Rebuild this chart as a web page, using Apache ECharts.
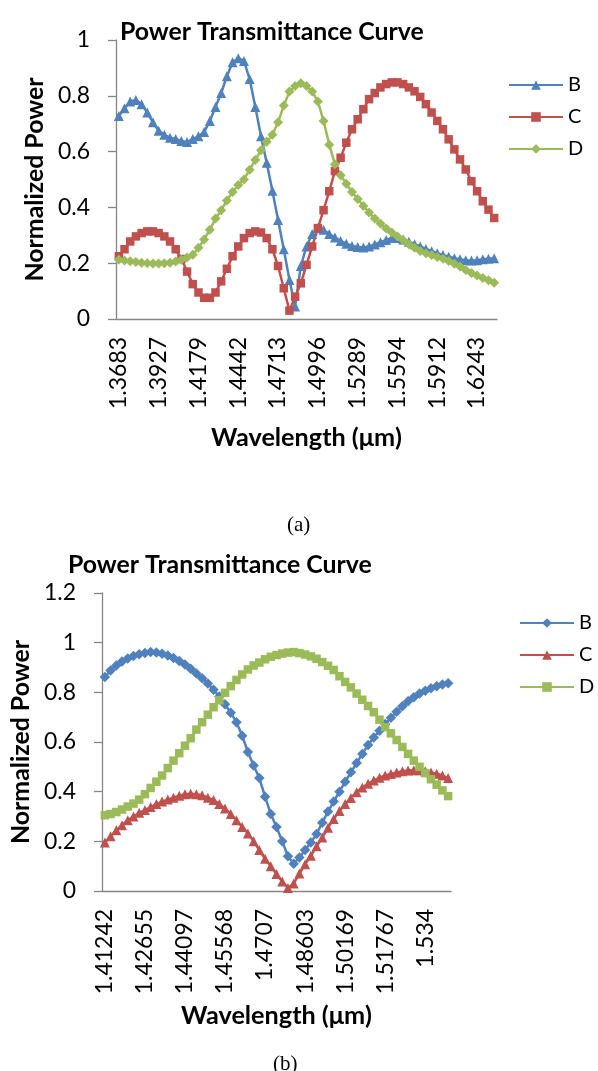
<!DOCTYPE html>
<html><head><meta charset="utf-8">
<script src="https://cdn.jsdelivr.net/npm/echarts@6/dist/echarts.min.js"></script>
<style>html,body{margin:0;padding:0;background:#fff}#c{width:598px;height:1071px}</style>
</head><body><div id="c"></div>
<script>
// ---- data (a) ----
const ticksA = ['1.3683','1.3927','1.4179','1.4442','1.4713','1.4996','1.5289','1.5594','1.5912','1.6243'];
const bA = [0.728,0.755,0.78,0.785,0.77,0.74,0.705,0.675,0.66,0.65,0.645,0.638,0.634,0.645,0.655,0.67,0.71,0.76,0.81,0.87,0.92,0.935,0.925,0.86,0.76,0.655,0.56,0.46,0.355,0.25,0.14,0.045,0.19,0.26,0.305,0.325,0.32,0.305,0.292,0.28,0.27,0.262,0.258,0.256,0.26,0.267,0.275,0.283,0.29,0.29,0.285,0.277,0.268,0.26,0.251,0.243,0.236,0.229,0.223,0.218,0.214,0.211,0.21,0.211,0.214,0.216,0.218];
const cA = [0.225,0.25,0.278,0.296,0.308,0.314,0.314,0.308,0.296,0.278,0.25,0.215,0.17,0.125,0.095,0.076,0.076,0.095,0.135,0.18,0.225,0.26,0.29,0.308,0.314,0.31,0.29,0.25,0.19,0.11,0.03,0.08,0.128,0.194,0.26,0.326,0.39,0.458,0.53,0.578,0.632,0.68,0.716,0.752,0.788,0.81,0.83,0.842,0.848,0.848,0.842,0.83,0.816,0.796,0.77,0.74,0.71,0.68,0.644,0.608,0.572,0.536,0.494,0.458,0.422,0.392,0.362];
const dA = [0.212,0.21,0.207,0.204,0.202,0.2,0.199,0.199,0.2,0.202,0.206,0.212,0.22,0.23,0.255,0.285,0.32,0.36,0.39,0.425,0.455,0.48,0.5,0.535,0.57,0.605,0.635,0.66,0.705,0.765,0.815,0.835,0.845,0.835,0.815,0.78,0.71,0.625,0.555,0.515,0.485,0.455,0.43,0.405,0.382,0.36,0.342,0.324,0.31,0.296,0.282,0.268,0.255,0.244,0.236,0.229,0.222,0.216,0.208,0.198,0.188,0.176,0.165,0.156,0.147,0.139,0.13];
// ---- data (b) ----
const ticksB = ['1.41242','1.42655','1.44097','1.45568','1.4707','1.48603','1.50169','1.51767','1.534'];
const bB = [0.862,0.888,0.908,0.924,0.936,0.946,0.953,0.958,0.962,0.96,0.955,0.948,0.938,0.926,0.912,0.895,0.876,0.857,0.836,0.81,0.783,0.752,0.718,0.68,0.625,0.56,0.505,0.455,0.38,0.31,0.258,0.2,0.14,0.11,0.135,0.165,0.195,0.23,0.275,0.32,0.36,0.4,0.44,0.478,0.515,0.552,0.588,0.618,0.645,0.672,0.698,0.722,0.744,0.764,0.78,0.795,0.806,0.816,0.825,0.832,0.837];
const cB = [0.195,0.22,0.245,0.265,0.285,0.3,0.315,0.326,0.338,0.35,0.36,0.368,0.376,0.384,0.39,0.392,0.39,0.386,0.376,0.366,0.35,0.332,0.31,0.285,0.258,0.232,0.2,0.165,0.13,0.1,0.068,0.038,0.012,0.03,0.07,0.108,0.142,0.18,0.215,0.255,0.29,0.322,0.35,0.375,0.398,0.417,0.432,0.445,0.456,0.465,0.471,0.477,0.482,0.485,0.486,0.486,0.482,0.477,0.472,0.465,0.455];
const dB = [0.305,0.31,0.318,0.328,0.34,0.352,0.368,0.39,0.415,0.44,0.465,0.495,0.525,0.555,0.585,0.615,0.65,0.68,0.71,0.74,0.768,0.798,0.825,0.85,0.872,0.892,0.908,0.92,0.933,0.943,0.95,0.956,0.96,0.962,0.958,0.952,0.945,0.935,0.922,0.907,0.89,0.865,0.842,0.82,0.795,0.77,0.745,0.72,0.69,0.66,0.635,0.608,0.58,0.552,0.525,0.5,0.475,0.45,0.428,0.405,0.382];
const STEP = 7; // one tick label every 7 samples

function cats(ticks, n){ const a=[]; for(let i=0;i<n;i++) a.push(i%STEP===0 ? (ticks[i/STEP]||'') : ''); return a; }
const FONT = 'Lato';
function fit(text, weight, target){ const c=document.createElement('canvas').getContext('2d'); c.font=weight+' 100px '+FONT; return 100*target/c.measureText(text).width; }
const titleSize = fit('Power Transmittance Curve','bold',304);
const nameYSize = fit('Normalized Power','bold',204);
const nameXSize = fit('Wavelength (\u03bcm)','bold',191);
const tickSize = fit('1.3683','normal',72);

const BLUE='#4F81BD', RED='#C0504D', GREEN='#9BBB59', AX='#868686';
function ser(name, data, color, symbol, size, idx){
  return {name, type:'line', data, xAxisIndex:idx, yAxisIndex:idx, symbol, symbolSize:size, showSymbol:true,
    lineStyle:{color, width:2.5}, itemStyle:{color, borderColor:color, borderWidth:0}, animation:false};
}
function yAx(idx,max){
  return {type:'value', gridIndex:idx, min:0, max, interval:0.2, name:'Normalized Power', nameLocation:'middle', nameGap:69, nameRotate:90,
    nameTextStyle:{fontFamily:FONT, fontWeight:'bold', fontSize:nameYSize, color:'#000'},
    axisLine:{show:true, lineStyle:{color:AX, width:1.3}}, axisTick:{show:true, length:8, lineStyle:{color:AX, width:1.3}},
    splitLine:{show:false}, axisLabel:{margin:26, fontFamily:FONT, fontSize:tickSize, color:'#000'}};
}
function xAx(idx, data, gap){
  return {type:'category', gridIndex:idx, data, boundaryGap:true, name:'Wavelength (\u03bcm)', nameLocation:'middle', nameGap:gap,
    nameTextStyle:{fontFamily:FONT, fontWeight:'bold', fontSize:nameXSize, color:'#000'},
    axisLine:{show:true, lineStyle:{color:AX, width:1.3}}, axisTick:{show:false}, splitLine:{show:false},
    axisLabel:{interval:0, rotate:90, margin:18, fontFamily:FONT, fontSize:tickSize, color:'#000'}};
}
const legendBase = {orient:'vertical', itemWidth:54, itemHeight:12, itemGap:12,
  textStyle:{fontFamily:FONT, fontSize:20, color:'#000', lineHeight:20}, formatter:n=>n.trim()};

const chart = echarts.init(document.getElementById('c'), null, {renderer:'canvas'});
chart.setOption({
  animation:false,
  title:[
    {text:'Power Transmittance Curve', left:115, top:14, textStyle:{fontFamily:FONT, fontWeight:'bold', fontSize:titleSize, color:'#000'}},
    {text:'Power Transmittance Curve', left:63, top:547, textStyle:{fontFamily:FONT, fontWeight:'bold', fontSize:titleSize, color:'#000'}},
    {text:'(a)', left:282, top:510, textStyle:{fontFamily:'Liberation Serif', fontWeight:'normal', fontSize:21, color:'#000'}},
    {text:'(b)', left:268, top:1049, textStyle:{fontFamily:'Liberation Serif', fontWeight:'normal', fontSize:21, color:'#000'}}
  ],
  legend:[
    Object.assign({}, legendBase, {left:503, top:70, data:['B','C','D']}),
    Object.assign({}, legendBase, {left:514, top:608, data:[' B',' C',' D']})
  ],
  grid:[
    {left:116, width:381, top:40, height:279},
    {left:100, width:351, top:593, height:298}
  ],
  xAxis:[xAx(0, cats(ticksA, bA.length), 106), xAx(1, cats(ticksB, bB.length), 112)],
  yAxis:[yAx(0,1), yAx(1,1.2)],
  series:[
    ser('B', bA, BLUE, 'triangle', 10, 0),
    ser('C', cA, RED, 'rect', 8.5, 0),
    ser('D', dA, GREEN, 'diamond', 10, 0),
    ser(' B', bB, BLUE, 'diamond', 10.5, 1),
    ser(' C', cB, RED, 'triangle', 10, 1),
    ser(' D', dB, GREEN, 'rect', 8.5, 1)
  ]
});
</script></body></html>
